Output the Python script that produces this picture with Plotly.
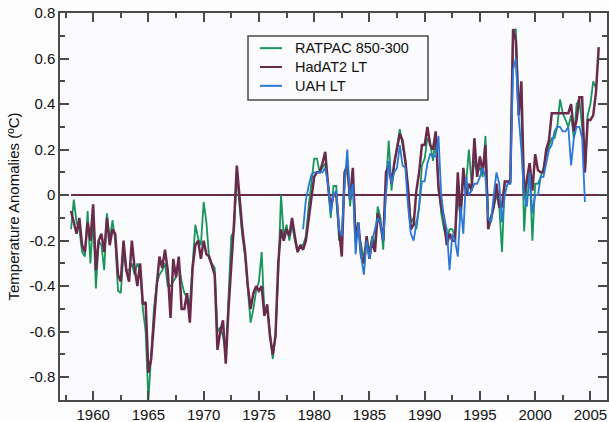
import plotly.graph_objects as go

# quarterly anomalies (degC)
ratpac_start = 1958.0
ratpac = [
    -0.15, -0.02, -0.12, -0.15,   # 1958
    -0.25, -0.27, -0.07, -0.30,   # 1959
    -0.10, -0.41, -0.20, -0.22,   # 1960
    -0.33, -0.08, -0.20, -0.11,   # 1961
    -0.20, -0.42, -0.43, -0.25,   # 1962
    -0.33, -0.33, -0.30, -0.35,   # 1963
    -0.30, -0.33, -0.50, -0.60,   # 1964
    -0.90, -0.70, -0.50, -0.39,   # 1965
    -0.35, -0.33, -0.30, -0.40,   # 1966
    -0.40, -0.38, -0.36, -0.30,   # 1967
    -0.38, -0.43, -0.45, -0.48,   # 1968
    -0.30, -0.13, -0.19, -0.22,   # 1969
    -0.03, -0.12, -0.28, -0.30,   # 1970
    -0.32, -0.60, -0.58, -0.62,   # 1971
    -0.70, -0.45, -0.18, -0.16,   # 1972
    0.10, -0.05, -0.18, -0.27,    # 1973
    -0.40, -0.56, -0.50, -0.42,   # 1974
    -0.38, -0.25, -0.52, -0.50,   # 1975
    -0.60, -0.72, -0.62, -0.35,   # 1976
    0.00, -0.18, -0.13, -0.20,    # 1977
    -0.13, -0.20, -0.25, -0.22,   # 1978
    -0.22, -0.18, -0.05, 0.05,    # 1979
    0.16, 0.16, 0.10, 0.12,       # 1980
    0.14, 0.05, -0.10, 0.04,      # 1981
    0.04, -0.20, -0.18, 0.05,     # 1982
    0.15, -0.05, 0.08, -0.15,     # 1983
    -0.15, -0.22, -0.28, -0.20,   # 1984
    -0.25, -0.18, -0.22, -0.05,   # 1985
    -0.10, -0.24, 0.05, 0.24,     # 1986
    0.02, 0.14, 0.22, 0.29,       # 1987
    0.22, 0.15, 0.02, -0.12,      # 1988
    -0.10, -0.15, -0.05, 0.13,    # 1989
    0.16, 0.25, 0.23, 0.15,       # 1990
    0.25, 0.05, -0.08, -0.15,     # 1991
    -0.20, -0.15, -0.15, -0.18,   # 1992
    0.00, -0.10, 0.08, 0.05,      # 1993
    0.20, 0.05, 0.15, 0.10,       # 1994
    0.12, 0.08, 0.26, -0.10,      # 1995
    -0.12, -0.05, 0.00, -0.05,    # 1996
    -0.25, 0.06, 0.06, 0.05,      # 1997
    0.72, 0.73, 0.40, 0.38,       # 1998
    -0.16, 0.05, 0.10, -0.20,     # 1999
    0.05, 0.05, 0.08, 0.12,       # 2000
    0.18, 0.22, 0.25, 0.25,       # 2001
    0.30, 0.42, 0.36, 0.33,       # 2002
    0.30, 0.35, 0.25, 0.40,       # 2003
    0.42, 0.30, 0.10, 0.35,       # 2004
    0.40, 0.50, 0.47,             # 2005
]

hadat2_start = 1958.0
hadat2 = [
    -0.07, -0.12, -0.17, -0.10,   # 1958
    -0.22, -0.25, -0.12, -0.20,   # 1959
    -0.04, -0.33, -0.20, -0.17,   # 1960
    -0.25, -0.10, -0.22, -0.15,   # 1961
    -0.17, -0.35, -0.38, -0.20,   # 1962
    -0.33, -0.38, -0.20, -0.32,   # 1963
    -0.40, -0.30, -0.48, -0.47,   # 1964
    -0.78, -0.72, -0.55, -0.40,   # 1965
    -0.27, -0.32, -0.24, -0.33,   # 1966
    -0.54, -0.28, -0.36, -0.27,   # 1967
    -0.50, -0.50, -0.43, -0.56,   # 1968
    -0.32, -0.22, -0.20, -0.28,   # 1969
    -0.20, -0.26, -0.27, -0.31,   # 1970
    -0.35, -0.68, -0.60, -0.55,   # 1971
    -0.74, -0.50, -0.33, -0.12,   # 1972
    0.13, -0.02, -0.15, -0.25,    # 1973
    -0.40, -0.50, -0.43, -0.40,   # 1974
    -0.42, -0.40, -0.53, -0.48,   # 1975
    -0.62, -0.70, -0.62, -0.30,   # 1976
    -0.15, -0.20, -0.15, -0.18,   # 1977
    -0.10, -0.18, -0.25, -0.22,   # 1978
    -0.24, -0.20, -0.10, 0.00,    # 1979
    0.08, 0.10, 0.10, 0.14,       # 1980
    0.19, 0.05, -0.06, 0.00,      # 1981
    0.00, -0.15, -0.27, 0.10,     # 1982
    0.13, -0.02, 0.12, -0.20,     # 1983
    -0.12, -0.27, -0.30, -0.18,   # 1984
    -0.28, -0.20, -0.25, -0.08,   # 1985
    -0.13, -0.20, 0.10, 0.13,     # 1986
    0.05, 0.14, 0.20, 0.27,       # 1987
    0.24, 0.15, 0.03, -0.15,      # 1988
    -0.13, 0.02, 0.10, 0.22,      # 1989
    0.22, 0.30, 0.22, 0.20,       # 1990
    0.28, 0.03, -0.05, -0.10,     # 1991
    -0.22, -0.17, -0.20, -0.20,   # 1992
    0.10, -0.10, 0.12, 0.00,      # 1993
    0.05, 0.02, 0.25, 0.08,       # 1994
    0.17, 0.10, 0.22, -0.15,      # 1995
    -0.10, -0.05, 0.05, -0.05,    # 1996
    -0.05, 0.06, 0.06, 0.06,      # 1997
    0.73, 0.68, 0.35, 0.50,       # 1998
    0.00, 0.07, 0.14, 0.02,       # 1999
    0.18, 0.11, 0.10, 0.10,       # 2000
    0.20, 0.24, 0.36, 0.36,       # 2001
    0.36, 0.36, 0.36, 0.36,       # 2002
    0.36, 0.40, 0.28, 0.33,       # 2003
    0.43, 0.43, 0.10, 0.33,       # 2004
    0.33, 0.35, 0.45, 0.65,       # 2005
]

uah_start = 1979.0
uah = [
    -0.15, -0.02, 0.04, 0.09,     # 1979
    0.10, 0.10, 0.10, 0.10,       # 1980
    0.12, 0.05, -0.08, 0.00,      # 1981
    0.02, -0.15, -0.18, 0.05,     # 1982
    0.20, -0.02, 0.05, -0.26,     # 1983
    -0.12, -0.27, -0.35, -0.20,   # 1984
    -0.28, -0.20, -0.15, -0.10,   # 1985
    -0.12, -0.20, 0.00, 0.15,     # 1986
    0.05, 0.10, 0.12, 0.22,       # 1987
    0.13, 0.12, -0.05, -0.17,     # 1988
    -0.20, -0.13, -0.05, 0.06,    # 1989
    0.06, 0.14, 0.18, 0.17,       # 1990
    0.17, 0.26, 0.00, -0.10,      # 1991
    -0.15, -0.33, -0.17, -0.20,   # 1992
    -0.27, -0.05, -0.17, 0.08,    # 1993
    0.00, 0.02, 0.05, 0.05,       # 1994
    0.08, 0.12, 0.08, -0.10,      # 1995
    -0.12, 0.00, 0.10, 0.05,      # 1996
    -0.12, 0.00, 0.05, 0.05,      # 1997
    0.55, 0.60, 0.35, 0.20,       # 1998
    0.00, -0.05, 0.10, -0.08,     # 1999
    0.00, 0.00, 0.08, 0.08,       # 2000
    0.14, 0.20, 0.22, 0.28,       # 2001
    0.30, 0.30, 0.28, 0.28,       # 2002
    0.30, 0.13, 0.25, 0.30,       # 2003
    0.30, 0.25, -0.03,            # 2004
]

zero_x = [1958.0, 2006.0]
zero_y = [0, 0]

x_tickvals = [1960, 1965, 1970, 1975, 1980, 1985, 1990, 1995, 2000, 2005]
x_ticktext = ["1960", "1965", "1970", "1975", "1980", "1985", "1990", "1995", "2000", "2005"]
x_minor = [1957.5, 1962.5, 1967.5, 1972.5, 1977.5, 1982.5, 1987.5, 1992.5, 1997.5, 2002.5]
y_tickvals = [-0.8, -0.6, -0.4, -0.2, 0, 0.2, 0.4, 0.6, 0.8]
y_ticktext = ["-0.8", "-0.6", "-0.4", "-0.2", "0", "0.2", "0.4", "0.6", "0.8"]
y_minor = [-0.9, -0.7, -0.5, -0.3, -0.1, 0.1, 0.3, 0.5, 0.7]

series_names = ["RATPAC 850-300", "HadAT2 LT", "UAH LT"]


def quarters(start, vals):
    return [start + 0.25 * i for i in range(len(vals))]


GREEN = "#17955a"
MAROON = "#6a2a4c"
BLUE = "#2b78d6"
FRAME = "#4a4a4a"
colors = [GREEN, MAROON, BLUE]

fig = go.Figure()
fig.add_trace(go.Scatter(x=zero_x, y=zero_y, mode="lines", showlegend=False,
                         line=dict(color=MAROON, width=2), hoverinfo="skip"))
fig.add_trace(go.Scatter(x=quarters(ratpac_start, ratpac), y=ratpac, mode="lines",
                         name=series_names[0], showlegend=False,
                         line=dict(color=GREEN, width=1.8)))
fig.add_trace(go.Scatter(x=quarters(hadat2_start, hadat2), y=hadat2, mode="lines",
                         name=series_names[1], showlegend=False,
                         line=dict(color=MAROON, width=2.5)))
fig.add_trace(go.Scatter(x=quarters(uah_start, uah), y=uah, mode="lines",
                         name=series_names[2], showlegend=False,
                         line=dict(color=BLUE, width=1.8)))

# legend drawn by hand: one three-line text block, samples beside each row
leg_font = 14.5
row_px = leg_font * 1.3 / 387  # plotly line height, in paper units
mid_y = 0.8605
fig.add_shape(type="rect", xref="paper", yref="paper", x0=0.3437, x1=0.6728,
              y0=0.7752, y1=0.9406, line=dict(color=FRAME, width=1.5),
              fillcolor="rgba(0,0,0,0)")
for i, col in enumerate(colors):
    yy = mid_y + (1 - i) * row_px
    fig.add_shape(type="line", xref="paper", yref="paper", x0=0.3656, x1=0.4059,
                  y0=yy, y1=yy, line=dict(color=col, width=2))
fig.add_annotation(xref="paper", yref="paper", x=0.426, y=mid_y,
                   text="<br>".join(series_names), align="left",
                   showarrow=False, xanchor="left", yanchor="middle",
                   font=dict(size=leg_font, color="#111"))

axis_common = dict(showline=True, linecolor=FRAME, linewidth=1.5, mirror="ticks",
                   ticks="inside", ticklen=9, tickwidth=1.5, tickcolor=FRAME,
                   showgrid=False, zeroline=False, automargin=False,
                   tickfont=dict(size=15, color="#111"))

fig.update_xaxes(range=[1957.0, 2006.5], tickmode="array", tickvals=x_tickvals,
                 ticktext=x_ticktext,
                 minor=dict(tickmode="array", tickvals=x_minor, ticks="inside",
                            ticklen=5, tickwidth=1.5, tickcolor=FRAME),
                 **axis_common)
fig.update_yaxes(range=[-0.9, 0.8], tickmode="array", tickvals=y_tickvals,
                 ticktext=y_ticktext,
                 minor=dict(tickmode="array", tickvals=y_minor, ticks="inside",
                            ticklen=5, tickwidth=1.5, tickcolor=FRAME),
                 title=dict(text="Temperature Anomalies (ºC)", font=dict(size=15, color="#111"),
                            standoff=6),
                 **axis_common)

fig.update_layout(
    width=609, height=422,
    margin=dict(l=60, r=2, t=13, b=22),
    paper_bgcolor="#fdfdfe",
    plot_bgcolor="#fbfbfd",
    font=dict(family="Liberation Sans, Arial, sans-serif", color="#111"),
    showlegend=False,
)

fig.write_html("out.html", config={"displayModeBar": False},
               post_script="document.body.style.margin='0';")
